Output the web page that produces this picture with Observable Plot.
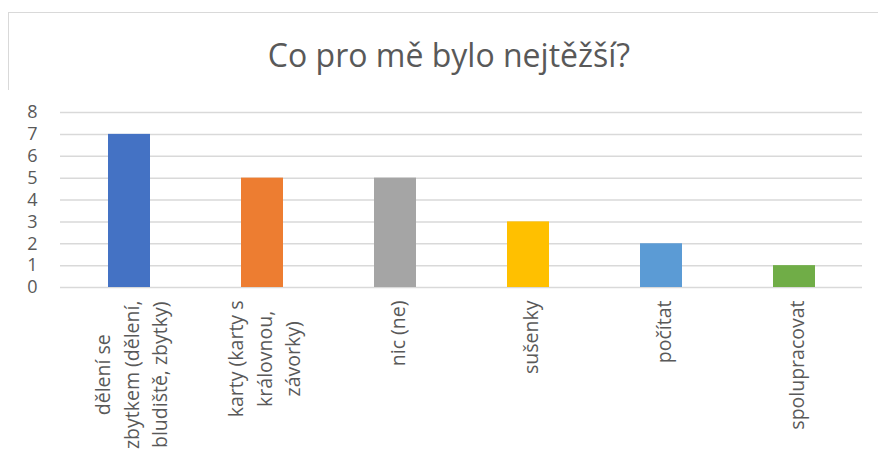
<!DOCTYPE html>
<html><head><meta charset="utf-8">
<script src="https://cdn.jsdelivr.net/npm/d3@7"></script>
<script src="https://cdn.jsdelivr.net/npm/@observablehq/plot@0.6"></script>
<style>
body{margin:0;background:#fff;}
#wrap{position:relative;width:878px;height:475px;overflow:hidden;font-family:"Open Sans","Noto Sans",sans-serif;background:#fff;}
#frame{position:absolute;left:8px;top:12px;width:880px;height:480px;border-left:1.5px solid #d9d9d9;border-top:1.5px solid #d9d9d9;}
#title{position:absolute;top:36px;left:6px;width:886px;text-align:center;font-size:32px;color:#595959;line-height:1.2;}
#chart{position:absolute;left:0;top:90px;}
</style></head><body>
<div id="wrap"><div id="frame"></div><div id="title">Co pro mě bylo nejtěžší?</div><div id="chart"></div></div>
<script>
const categories = [
  "dělení se\nzbytkem (dělení,\nbludiště, zbytky)",
  "karty (karty s\nkrálovnou,\nzávorky)",
  "nic (ne)",
  "sušenky",
  "počítat",
  "spolupracovat"
];
const values = [7, 5, 5, 3, 2, 1];
const colors = ["#4472C4", "#ED7D31", "#A5A5A5", "#FFC000", "#5B9BD5", "#70AD47"];
const yTicks = [0, 1, 2, 3, 4, 5, 6, 7, 8];

const data = categories.map((c, i) => ({category: c, value: values[i], color: colors[i]}));
const xFontSize = 19.5;
const fontFamily = "'Open Sans', 'Noto Sans', sans-serif";

const plot = Plot.plot({
  width: 878,
  height: 385,
  marginLeft: 60,
  marginRight: 16,
  marginTop: 22,
  marginBottom: 188,
  style: {fontFamily, fontSize: "18px", color: "#595959", background: "white", overflow: "visible"},
  x: {domain: categories, paddingInner: 0.686, paddingOuter: 0.343, label: null},
  y: {domain: [0, 8], label: null},
  marks: [
    Plot.gridY(yTicks, {stroke: "#d9d9d9", strokeOpacity: 1, strokeWidth: 1.5}),
    Plot.barY(data, {x: "category", y: "value", fill: "color"}),
    Plot.axisY(yTicks, {tickSize: 0, tickPadding: 23, fontSize: 18}),
    Plot.axisX({tickSize: 0, tickRotate: -90, tickPadding: 13, lineHeight: 1.47, fontSize: xFontSize})
  ]
});
document.getElementById("chart").appendChild(plot);

// center the lines of each rotated tick label within its block (as in the reference)
const ctx = document.createElement("canvas").getContext("2d");
ctx.font = `${xFontSize}px ${fontFamily}`;
plot.querySelectorAll('g[aria-label="x-axis tick label"] text').forEach(t => {
  const lines = t.querySelectorAll("tspan").length
    ? Array.from(t.querySelectorAll("tspan"), s => s.textContent)
    : [t.textContent];
  const w = Math.max(...lines.map(s => ctx.measureText(s).width));
  t.setAttribute("text-anchor", "middle");
  t.style.textAnchor = "middle";
  t.querySelectorAll("tspan").forEach(s => { s.setAttribute("text-anchor", "middle"); s.setAttribute("x", 0); });
  t.setAttribute("transform", (t.getAttribute("transform") || "") + ` translate(${-w / 2},0)`);
});
</script>
</body></html>
